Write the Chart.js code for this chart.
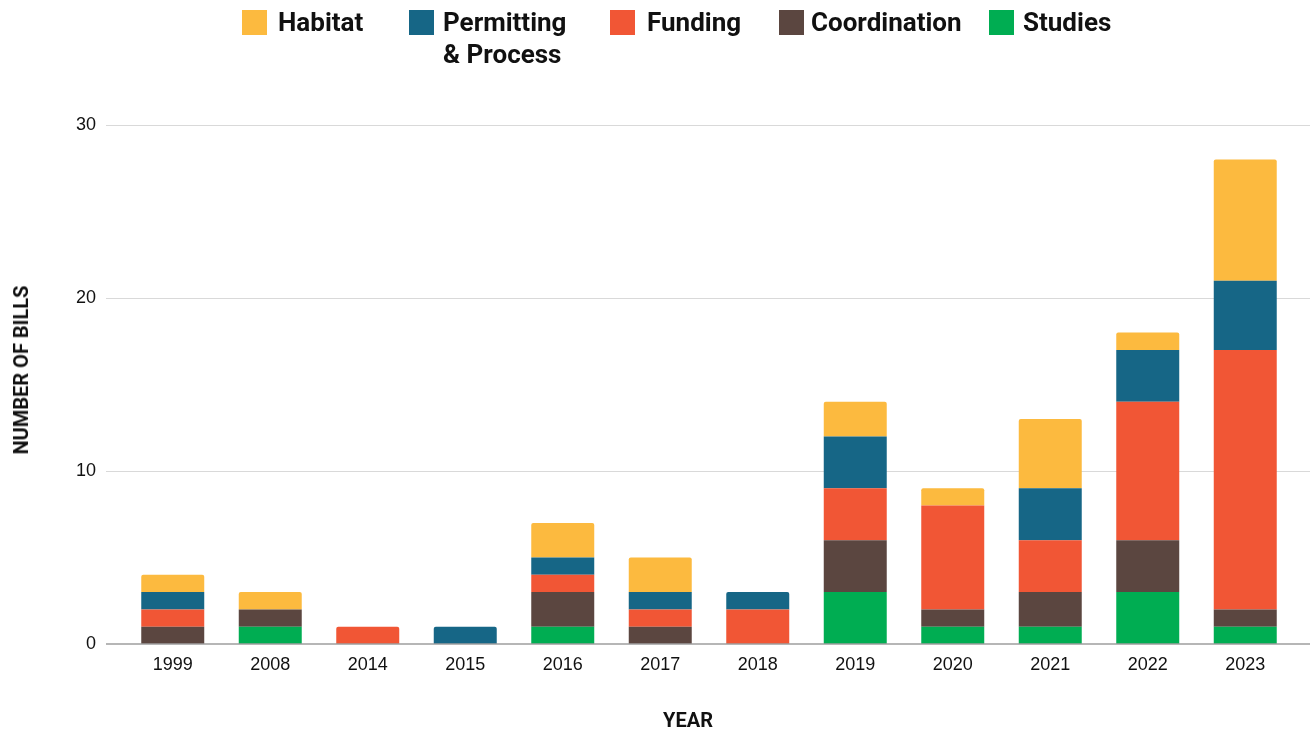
<!DOCTYPE html>
<html>
<head>
<meta charset="utf-8">
<script src="https://cdn.jsdelivr.net/npm/chart.js@4.4.0/dist/chart.umd.min.js"></script>
<style>
  html, body { margin: 0; padding: 0; background: #ffffff; }
  #wrap { position: relative; width: 1310px; height: 731px; overflow: hidden; }
  #chart { position: absolute; left: 0; top: 0; }
  .lg-sq { position: absolute; top: 10px; width: 25px; height: 25px; }
  .lg-tx { position: absolute; top: 6px; font-family: Roboto, "Noto Sans", sans-serif; font-weight: 700; font-size: 26px; line-height: 32px; color: #111; white-space: nowrap; }
  .axis-title { position: absolute; font-family: Roboto, "Noto Sans", sans-serif; font-weight: 700; font-size: 20px; line-height: 20px; color: #111; white-space: nowrap; }
</style>
</head>
<body>
<div id="wrap">
  <canvas id="chart" width="1310" height="731"></canvas>
  <div id="legend"></div>
  <div class="axis-title" id="ytitle" style="left:20.5px; top:370px; transform: translate(-50%,-50%) rotate(-90deg);">NUMBER OF BILLS</div>
  <div class="axis-title" id="xtitle" style="left:688px; top:720px; transform: translate(-50%,-50%);">YEAR</div>
</div>
<script>
// ---- Data ----
const years = ['1999','2008','2014','2015','2016','2017','2018','2019','2020','2021','2022','2023'];
const studies      = [0, 1, 0, 0, 1, 0, 0, 3, 1, 1, 3, 1];
const coordination = [1, 1, 0, 0, 2, 1, 0, 3, 1, 2, 3, 1];
const funding      = [1, 0, 1, 0, 1, 1, 2, 3, 6, 3, 8, 15];
const permitting   = [1, 0, 0, 1, 1, 1, 1, 3, 0, 3, 3, 4];
const habitat      = [1, 1, 0, 0, 2, 2, 0, 2, 1, 4, 1, 7];
const yTicks = [0, 10, 20, 30];

// ---- Styles ----
const colors = {
  studies: '#00AD52',
  coordination: '#5B4640',
  funding: '#F15635',
  permitting: '#166686',
  habitat: '#FCBA3F'
};

// ---- Legend (HTML, top) ----
const legendItems = [
  { label: ['Habitat'], color: colors.habitat, sq: 242, tx: 278 },
  { label: ['Permitting', '& Process'], color: colors.permitting, sq: 409, tx: 443 },
  { label: ['Funding'], color: colors.funding, sq: 610, tx: 647 },
  { label: ['Coordination'], color: colors.coordination, sq: 779, tx: 811 },
  { label: ['Studies'], color: colors.studies, sq: 989, tx: 1023 }
];
const legendEl = document.getElementById('legend');
legendItems.forEach(it => {
  const s = document.createElement('div');
  s.className = 'lg-sq';
  s.style.left = it.sq + 'px';
  s.style.background = it.color;
  legendEl.appendChild(s);
  const t = document.createElement('div');
  t.className = 'lg-tx';
  t.style.left = it.tx + 'px';
  t.innerHTML = it.label.join('<br>');
  legendEl.appendChild(t);
});

const series = [
  { label: 'Studies', data: studies, color: colors.studies },
  { label: 'Coordination', data: coordination, color: colors.coordination },
  { label: 'Funding', data: funding, color: colors.funding },
  { label: 'Permitting & Process', data: permitting, color: colors.permitting },
  { label: 'Habitat', data: habitat, color: colors.habitat }
];

function topRadius(ctx) {
  const i = ctx.dataIndex, d = ctx.datasetIndex;
  if (!series[d] || !series[d].data[i]) return 0;
  for (let k = d + 1; k < series.length; k++) {
    if (series[k].data[i] > 0) return 0;
  }
  return { topLeft: 2, topRight: 2, bottomLeft: 0, bottomRight: 0 };
}

const gridPlugin = {
  id: 'extGrid',
  beforeDatasetsDraw(chart) {
    const y = chart.scales.y, c = chart.ctx;
    c.save();
    y.ticks.forEach(t => {
      if (t.value === 0) return;
      const py = Math.round(y.getPixelForValue(t.value)) + 0.5;
      c.strokeStyle = '#D9D9D9';
      c.lineWidth = 1;
      c.beginPath(); c.moveTo(106, py); c.lineTo(1310, py); c.stroke();
    });
    c.restore();
  },
  afterDatasetsDraw(chart) {
    const y = chart.scales.y, c = chart.ctx;
    const py = y.getPixelForValue(0);
    c.save();
    c.strokeStyle = '#9E9E9E';
    c.lineWidth = 1.6;
    c.beginPath(); c.moveTo(106, py); c.lineTo(1310, py); c.stroke();
    c.restore();
  }
};

new Chart(document.getElementById('chart'), {
  type: 'bar',
  data: {
    labels: years,
    datasets: series.map(s => ({
      label: s.label,
      data: s.data,
      backgroundColor: s.color,
      borderWidth: 0,
      borderRadius: topRadius,
      borderSkipped: false,
      barPercentage: 0.646,
      categoryPercentage: 1.0
    }))
  },
  options: {
    responsive: false,
    animation: false,
    devicePixelRatio: 1,
    layout: { padding: { top: 125, right: 16, bottom: 0, left: 0 } },
    plugins: {
      legend: { display: false },
      tooltip: { enabled: false },
      title: { display: false }
    },
    scales: {
      x: {
        stacked: true,
        grid: { display: false, drawTicks: false },
        border: { display: false },
        ticks: {
          color: '#111',
          font: { family: '"Liberation Sans", Arial, sans-serif', size: 18 },
          padding: 10,
          maxRotation: 0
        },
        afterFit(scale) { scale.height = 87; }
      },
      y: {
        stacked: true,
        min: 0,
        max: 30,
        afterBuildTicks(scale) { scale.ticks = yTicks.map(v => ({ value: v })); },
        grid: { display: false, drawTicks: false },
        border: { display: false },
        ticks: {
          color: '#111',
          font: { family: '"Liberation Sans", Arial, sans-serif', size: 18 },
          padding: 28
        },
        afterFit(scale) { scale.width = 124; }
      }
    }
  },
  plugins: [gridPlugin]
});
</script>
</body>
</html>
